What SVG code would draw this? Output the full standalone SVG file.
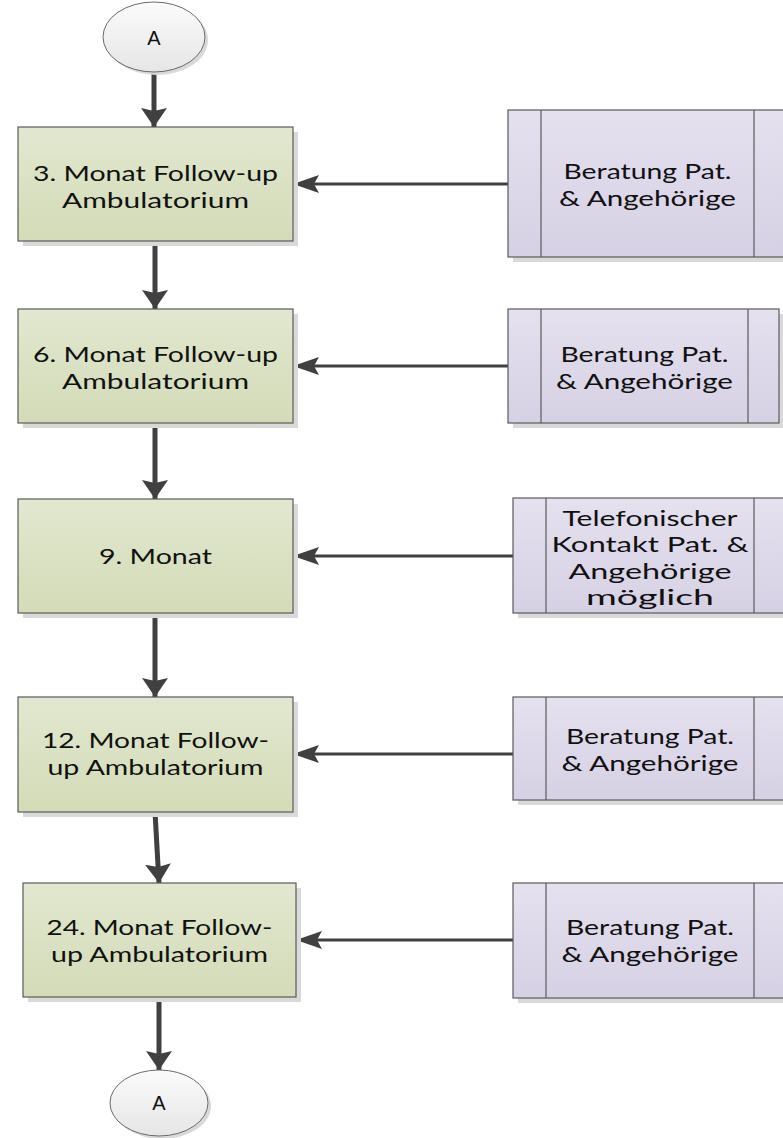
<svg xmlns="http://www.w3.org/2000/svg" width="783" height="1138" viewBox="0 0 783 1138">
<style>
.bg{fill:#ffffff}
.shadow{fill:#d9d9d9}
.green{fill:url(#gGreen);stroke:#5a5a5a;stroke-width:1.2}
.purple{fill:url(#gPurple);stroke:#5a5a5a;stroke-width:1.2}
.bar{stroke:#5a5a5a;stroke-width:1.2;fill:none}
.oval{fill:url(#gOval);stroke:#6a6a6a;stroke-width:1}
.t{font-family:Lato,"Open Sans","DejaVu Sans",sans-serif;font-size:21px;fill:#111111;text-anchor:middle}
.ta{font-family:"Liberation Sans",Arial,sans-serif;font-size:20px;fill:#111111;text-anchor:middle}
.v{stroke:#404040;stroke-width:5;fill:none;marker-end:url(#headV)}
.h{stroke:#404040;stroke-width:3;fill:none;marker-end:url(#headH)}
</style>
<defs>
<linearGradient id="gGreen" x1="0" y1="0" x2="0" y2="1">
<stop offset="0" stop-color="#e1e8d0"/>
<stop offset="1" stop-color="#d3dbb7"/>
</linearGradient>
<linearGradient id="gPurple" x1="0" y1="0" x2="0" y2="1">
<stop offset="0" stop-color="#e5e1ef"/>
<stop offset="1" stop-color="#d6d0e4"/>
</linearGradient>
<linearGradient id="gOval" x1="0" y1="0" x2="0" y2="1">
<stop offset="0" stop-color="#fbfbfb"/>
<stop offset="1" stop-color="#e6e6e6"/>
</linearGradient>
<marker id="headV" markerUnits="userSpaceOnUse" viewBox="0 -13 19 26" refX="19" refY="0" markerWidth="19" markerHeight="26" orient="auto">
<path d="M0,-13 L19,0 L0,13 L3,0 Z" fill="#404040"/>
</marker>
<marker id="headH" markerUnits="userSpaceOnUse" viewBox="0 -9 26 18" refX="26" refY="0" markerWidth="26" markerHeight="18" orient="auto">
<path d="M0,-9 L26,0 L0,9 L5,0 Z" fill="#404040"/>
</marker>
</defs>
<rect class="bg" x="0" y="0" width="783" height="1138"/>

<g id="connectors">
<line class="v" x1="154" y1="72" x2="154" y2="127"/>
<line class="v" x1="155" y1="241" x2="155" y2="309"/>
<line class="v" x1="155" y1="423" x2="155" y2="499"/>
<line class="v" x1="155" y1="613" x2="155" y2="697"/>
<line class="v" x1="155" y1="812" x2="159" y2="883"/>
<line class="v" x1="159" y1="997" x2="159" y2="1070"/>
<line class="h" x1="508" y1="184" x2="293" y2="184"/>
<line class="h" x1="508" y1="366" x2="293" y2="366"/>
<line class="h" x1="513" y1="556" x2="293" y2="556"/>
<line class="h" x1="513" y1="754" x2="293" y2="754"/>
<line class="h" x1="513" y1="940" x2="296" y2="940"/>
</g>

<g id="startA">
<ellipse class="shadow" cx="157" cy="40" rx="51" ry="35"/>
<ellipse class="oval" cx="154" cy="37" rx="51" ry="35"/>
<text class="ta" x="154" y="45">A</text>
</g>

<g id="m3">
<rect class="shadow" x="23" y="132" width="275" height="114"/>
<rect class="green" x="18" y="127" width="275" height="114"/>
<text class="t" x="155.5" y="181" textLength="245" lengthAdjust="spacingAndGlyphs">3. Monat Follow-up</text>
<text class="t" x="155.5" y="208" textLength="187" lengthAdjust="spacingAndGlyphs">Ambulatorium</text>
</g>

<g id="m6">
<rect class="shadow" x="23" y="314" width="275" height="114"/>
<rect class="green" x="18" y="309" width="275" height="114"/>
<text class="t" x="155.5" y="362" textLength="245" lengthAdjust="spacingAndGlyphs">6. Monat Follow-up</text>
<text class="t" x="155.5" y="389" textLength="187" lengthAdjust="spacingAndGlyphs">Ambulatorium</text>
</g>

<g id="m9">
<rect class="shadow" x="23" y="504" width="275" height="114"/>
<rect class="green" x="18" y="499" width="275" height="114"/>
<text class="t" x="155.5" y="564" textLength="113" lengthAdjust="spacingAndGlyphs">9. Monat</text>
</g>

<g id="m12">
<rect class="shadow" x="23" y="702" width="275" height="115"/>
<rect class="green" x="18" y="697" width="275" height="115"/>
<text class="t" x="155.5" y="748" textLength="227" lengthAdjust="spacingAndGlyphs">12. Monat Follow-</text>
<text class="t" x="155.5" y="775" textLength="216" lengthAdjust="spacingAndGlyphs">up Ambulatorium</text>
</g>

<g id="m24">
<rect class="shadow" x="28" y="888" width="273" height="114"/>
<rect class="green" x="23" y="883" width="273" height="114"/>
<text class="t" x="159.5" y="935" textLength="226" lengthAdjust="spacingAndGlyphs">24. Monat Follow-</text>
<text class="t" x="159.5" y="962" textLength="217" lengthAdjust="spacingAndGlyphs">up Ambulatorium</text>
</g>

<g id="b3">
<rect class="shadow" x="513" y="115" width="279" height="147"/>
<rect class="purple" x="508" y="110" width="279" height="147"/>
<line class="bar" x1="541" y1="110" x2="541" y2="257"/>
<line class="bar" x1="754" y1="110" x2="754" y2="257"/>
<text class="t" x="647.5" y="179" textLength="168" lengthAdjust="spacingAndGlyphs">Beratung Pat.</text>
<text class="t" x="647.5" y="206" textLength="177" lengthAdjust="spacingAndGlyphs">&amp; Angehörige</text>
</g>

<g id="b6">
<rect class="shadow" x="513" y="314" width="271" height="114"/>
<rect class="purple" x="508" y="309" width="271" height="114"/>
<line class="bar" x1="541" y1="309" x2="541" y2="423"/>
<line class="bar" x1="748" y1="309" x2="748" y2="423"/>
<text class="t" x="644.5" y="362" textLength="168" lengthAdjust="spacingAndGlyphs">Beratung Pat.</text>
<text class="t" x="644.5" y="389" textLength="177" lengthAdjust="spacingAndGlyphs">&amp; Angehörige</text>
</g>

<g id="b9">
<rect class="shadow" x="518" y="503" width="274" height="115"/>
<rect class="purple" x="513" y="498" width="274" height="115"/>
<line class="bar" x1="546" y1="498" x2="546" y2="613"/>
<line class="bar" x1="754" y1="498" x2="754" y2="613"/>
<text class="t" x="650" y="526" textLength="175" lengthAdjust="spacingAndGlyphs">Telefonischer</text>
<text class="t" x="650" y="552" textLength="197" lengthAdjust="spacingAndGlyphs">Kontakt Pat. &amp;</text>
<text class="t" x="650" y="579" textLength="163" lengthAdjust="spacingAndGlyphs">Angehörige</text>
<text class="t" x="650" y="605" textLength="128" lengthAdjust="spacingAndGlyphs">möglich</text>
</g>

<g id="b12">
<rect class="shadow" x="518" y="702" width="274" height="103"/>
<rect class="purple" x="513" y="697" width="274" height="103"/>
<line class="bar" x1="546" y1="697" x2="546" y2="800"/>
<line class="bar" x1="754" y1="697" x2="754" y2="800"/>
<text class="t" x="650" y="744" textLength="168" lengthAdjust="spacingAndGlyphs">Beratung Pat.</text>
<text class="t" x="650" y="771" textLength="177" lengthAdjust="spacingAndGlyphs">&amp; Angehörige</text>
</g>

<g id="b24">
<rect class="shadow" x="518" y="888" width="274" height="115"/>
<rect class="purple" x="513" y="883" width="274" height="115"/>
<line class="bar" x1="546" y1="883" x2="546" y2="998"/>
<line class="bar" x1="754" y1="883" x2="754" y2="998"/>
<text class="t" x="650" y="935" textLength="168" lengthAdjust="spacingAndGlyphs">Beratung Pat.</text>
<text class="t" x="650" y="962" textLength="177" lengthAdjust="spacingAndGlyphs">&amp; Angehörige</text>
</g>

<g id="endA">
<ellipse class="shadow" cx="162" cy="1106" rx="49" ry="33"/>
<ellipse class="oval" cx="159" cy="1103" rx="49" ry="33"/>
<text class="ta" x="159" y="1110">A</text>
</g>
</svg>
